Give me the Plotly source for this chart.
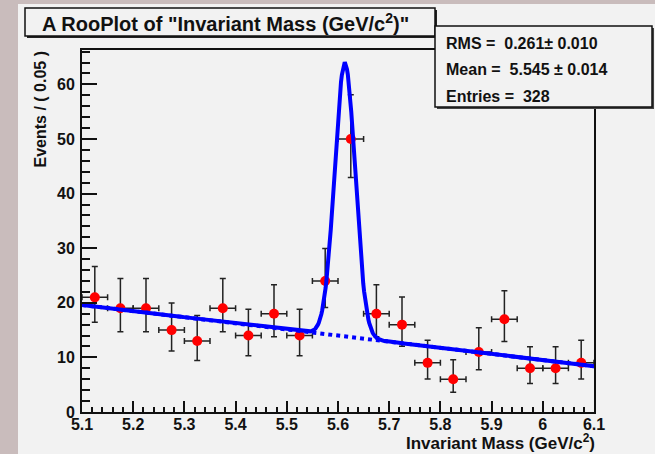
import plotly.graph_objects as go
import numpy as np

# ---- data ----
bin_centers = [5.125, 5.175, 5.225, 5.275, 5.325, 5.375, 5.425, 5.475, 5.525, 5.575,
               5.625, 5.675, 5.725, 5.775, 5.825, 5.875, 5.925, 5.975, 6.025, 6.075]
counts = [21, 19, 19, 15, 13, 19, 14, 18, 14, 24, 50, 18, 16, 9, 6, 11, 17, 8, 8, 9]
err_hi = [5.65, 5.43, 5.43, 4.95, 4.69, 5.43, 4.83, 5.32, 4.83, 5.96,
          8.12, 5.32, 5.08, 4.14, 3.58, 4.41, 5.20, 3.94, 3.94, 4.14]
err_lo = [4.54, 4.32, 4.32, 3.83, 3.55, 4.32, 3.69, 4.20, 3.69, 4.86,
          7.05, 4.20, 3.95, 2.94, 2.38, 3.26, 4.08, 2.76, 2.76, 2.94]
bin_half_width = 0.025

x_tick_vals = [5.1, 5.2, 5.3, 5.4, 5.5, 5.6, 5.7, 5.8, 5.9, 6.0, 6.1]
x_tick_text = ["5.1", "5.2", "5.3", "5.4", "5.5", "5.6", "5.7", "5.8", "5.9", "6", "6.1"]
y_tick_vals = [0, 10, 20, 30, 40, 50, 60]

# fit model parameters (linear background + gaussian)
bkg_at_min = 19.6
bkg_slope = -11.2
sig_mean = 5.6135
sig_sigma = 0.020
sig_amp = 50.0
x_min, x_max = 5.1, 6.1

NB = "\u00a0"
stats_lines = ["RMS =" + NB + NB + "0.261\u00b1" + NB + "0.010",
               "Mean =" + NB + NB + "5.545" + NB + "\u00b1" + NB + "0.014",
               "Entries =" + NB + NB + "328"]
title_text = 'A RooPlot of "Invariant Mass (GeV/c<sup>2</sup>)"'

# ---- geometry ----
W, H = 655, 454
L, R, T, B = 82, 594, 50, 412
PW, PH = R - L, B - T


def px(xp):
    return (xp - L) / PW


def py(yp):
    return (B - yp) / PH


xs = np.linspace(x_min, x_max, 600)
bkg = bkg_at_min + bkg_slope * (xs - x_min)
total = bkg + sig_amp * np.exp(-0.5 * ((xs - sig_mean) / sig_sigma) ** 2)

FONT = "Liberation Sans, Arial, sans-serif"
fig = go.Figure()

fig.add_trace(go.Scatter(
    x=bin_centers, y=counts, mode="markers",
    marker=dict(color="#ff0000", size=10),
    error_y=dict(type="data", array=err_hi, arrayminus=err_lo, color="#222222", thickness=1.5, width=3),
    error_x=dict(type="constant", value=bin_half_width, color="#222222", thickness=1.5, width=3),
    showlegend=False, hoverinfo="skip"))

fig.add_trace(go.Scatter(x=xs, y=bkg, mode="lines",
                         line=dict(color="#0000ff", width=4, dash="dot"),
                         showlegend=False, hoverinfo="skip"))
fig.add_trace(go.Scatter(x=xs, y=total, mode="lines",
                         line=dict(color="#0000ff", width=4),
                         showlegend=False, hoverinfo="skip"))

shapes = []
# canvas
shapes.append(dict(type="rect", xref="paper", yref="paper", layer="below",
                   x0=px(18), x1=px(W + 5), y0=py(4), y1=py(H + 5),
                   fillcolor="#f2f2f2", line=dict(width=0)))
# title box (shadow + box)
shapes.append(dict(type="rect", xref="paper", yref="paper", layer="above",
                   x0=px(27), x1=px(437), y0=py(10), y1=py(38),
                   fillcolor="#222222", line=dict(width=0)))
shapes.append(dict(type="rect", xref="paper", yref="paper", layer="above",
                   x0=px(25), x1=px(435), y0=py(8), y1=py(36),
                   fillcolor="#f2f2f2", line=dict(color="#111111", width=1.5)))
# stats box (shadow + box)
shapes.append(dict(type="rect", xref="paper", yref="paper", layer="above",
                   x0=px(437), x1=px(654), y0=py(28), y1=py(109),
                   fillcolor="#444444", line=dict(width=0)))
shapes.append(dict(type="rect", xref="paper", yref="paper", layer="above",
                   x0=px(435), x1=px(652), y0=py(26), y1=py(107),
                   fillcolor="#f2f2f2", line=dict(color="#111111", width=1.5)))

annotations = []
annotations.append(dict(text="<b>" + title_text + "</b>", xref="paper", yref="paper",
                        x=px(40), y=py(23), xanchor="left", yanchor="middle", showarrow=False,
                        font=dict(family=FONT, size=20, color="#111111")))
for s, yy in zip(stats_lines, [44, 70, 96]):
    annotations.append(dict(text="<b>" + s + "</b>", xref="paper", yref="paper",
                            x=px(444), y=py(yy), xanchor="left", yanchor="middle", showarrow=False,
                            font=dict(family=FONT, size=16, color="#111111")))
annotations.append(dict(text="<b>Events / ( 0.05 )</b>", xref="paper", yref="paper",
                        x=px(40), y=py(49), xanchor="center", yanchor="top", textangle=-90,
                        showarrow=False, font=dict(family=FONT, size=16, color="#111111")))
annotations.append(dict(text="<b>Invariant Mass (GeV/c<sup>2</sup>)</b>", xref="paper", yref="paper",
                        x=px(597), y=py(442), xanchor="right", yanchor="middle",
                        showarrow=False, font=dict(family=FONT, size=17, color="#111111")))

fig.update_layout(
    width=W, height=H,
    margin=dict(l=L, r=W - R, t=T, b=H - B, pad=0),
    paper_bgcolor="#c9bcbc", plot_bgcolor="#f2f2f2",
    shapes=shapes, annotations=annotations,
    xaxis=dict(range=[x_min, x_max], tickvals=x_tick_vals, ticktext=x_tick_text,
               ticks="inside", ticklen=11, tickwidth=1.5, tickcolor="#111111",
               minor=dict(ticks="inside", ticklen=5, dtick=0.02, tick0=5.1, tickcolor="#111111", tickwidth=1.5),
               showgrid=False, zeroline=False, showline=True, linecolor="#111111", linewidth=2,
               mirror=True, ticklabelstandoff=-3,
               tickfont=dict(family=FONT, size=16, color="#111111", weight="bold")),
    yaxis=dict(range=[0, 66.3], tickvals=y_tick_vals,
               ticks="inside", ticklen=15, tickwidth=1.5, tickcolor="#111111",
               minor=dict(ticks="inside", ticklen=8, dtick=2, tick0=0, tickcolor="#111111", tickwidth=1.5),
               showgrid=False, zeroline=False, showline=True, linecolor="#111111", linewidth=2,
               mirror=True, ticklabelstandoff=2,
               tickfont=dict(family=FONT, size=16, color="#111111", weight="bold")),
)

fig.write_html("out.html")
